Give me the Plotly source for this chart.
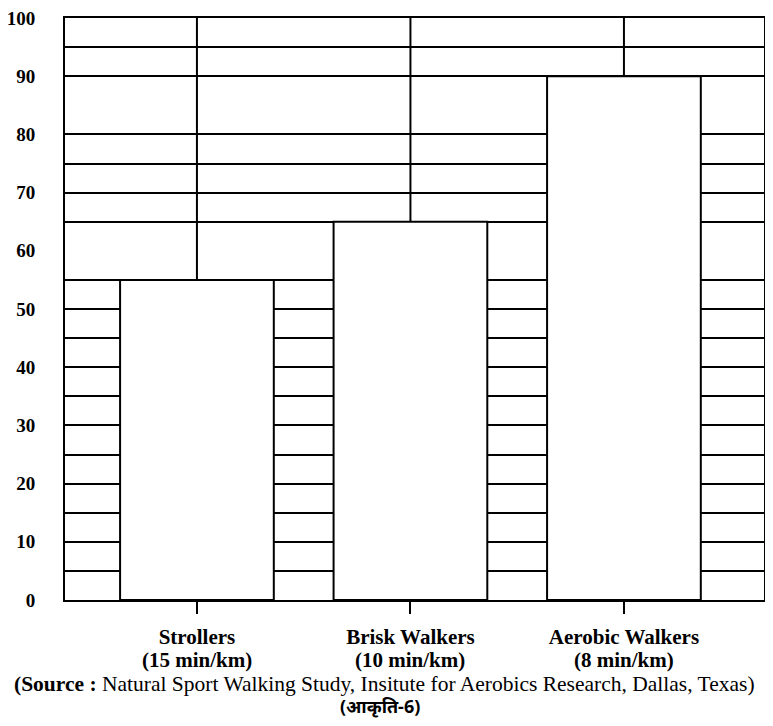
import plotly.graph_objects as go

# ---- data ----
categories = ["Strollers", "Brisk Walkers", "Aerobic Walkers"]
paces = ["(15 min/km)", "(10 min/km)", "(8 min/km)"]
values = [55, 65, 90]
x_pos = [0, 1, 2]
y_ticks = [0, 10, 20, 30, 40, 50, 60, 70, 80, 90, 100]
brick_levels = [5, 10, 15, 20, 25, 30, 35, 40, 45, 50, 55, 65, 70, 75, 80, 90, 95]
y_top = 100
source_text = "<b>(Source :</b> Natural Sport Walking Study, Insitute for Aerobics Research, Dallas, Texas)"
figure_label = "<b>(आकृति-6)</b>"

fig = go.Figure()
fig.add_trace(go.Bar(
    x=x_pos,
    y=values,
    width=0.72,
    marker=dict(color="white", line=dict(color="black", width=2)),
    error_y=dict(
        type="data",
        symmetric=False,
        array=[y_top - v for v in values],
        arrayminus=[0 for _ in values],
        width=0,
        thickness=2,
        color="black",
    ),
    hoverinfo="skip",
    showlegend=False,
))

annotations = [
    dict(
        text=f"<b>{p}</b>",
        xref="x", yref="paper",
        x=xp, y=-0.1035,
        xanchor="center", yanchor="middle",
        showarrow=False,
        font=dict(family="Liberation Serif", size=21, color="black"),
    )
    for xp, p in zip(x_pos, paces)
]
annotations += [
    dict(
        text=source_text,
        xref="paper", yref="paper",
        x=0.457, y=-0.1445,
        xanchor="center", yanchor="middle",
        showarrow=False,
        font=dict(family="Liberation Serif", size=21.5, color="black"),
    ),
    dict(
        text=figure_label,
        xref="paper", yref="paper",
        x=0.45, y=-0.182,
        xanchor="center", yanchor="middle",
        showarrow=False,
        font=dict(family="Noto Sans, Liberation Serif", size=18, color="black"),
    ),
]

fig.update_layout(
    width=757,
    height=710,
    autosize=False,
    margin=dict(l=57, r=1, t=10, b=118),
    paper_bgcolor="white",
    plot_bgcolor="white",
    font=dict(family="Liberation Serif", color="black"),
    xaxis=dict(
        range=[-0.618, 2.656],
        tickmode="array",
        tickvals=x_pos,
        ticktext=[f"<b>{c}</b>" for c in categories],
        ticks="outside",
        ticklen=12,
        tickwidth=2,
        tickcolor="black",
        ticklabelstandoff=5,
        ticklabeloverflow="allow",
        tickfont=dict(family="Liberation Serif", size=21, color="black"),
        showgrid=False,
        zeroline=False,
        showline=True,
        linecolor="black",
        linewidth=2,
        mirror=True,
        automargin=False,
        fixedrange=True,
    ),
    yaxis=dict(
        range=[0, y_top],
        tickmode="array",
        tickvals=y_ticks,
        ticktext=[f"<b>{t}</b>" for t in y_ticks],
        ticks="",
        ticklabelstandoff=24,
        ticklabeloverflow="allow",
        tickfont=dict(family="Liberation Serif", size=19, color="black"),
        showgrid=False,
        zeroline=False,
        showline=True,
        linecolor="black",
        linewidth=2,
        mirror=True,
        automargin=False,
        minor=dict(
            tickmode="array",
            tickvals=brick_levels,
            showgrid=True,
            gridcolor="black",
            gridwidth=1.6,
            ticks="",
        ),
        fixedrange=True,
    ),
    annotations=annotations,
)

fig.write_html("out.html")
